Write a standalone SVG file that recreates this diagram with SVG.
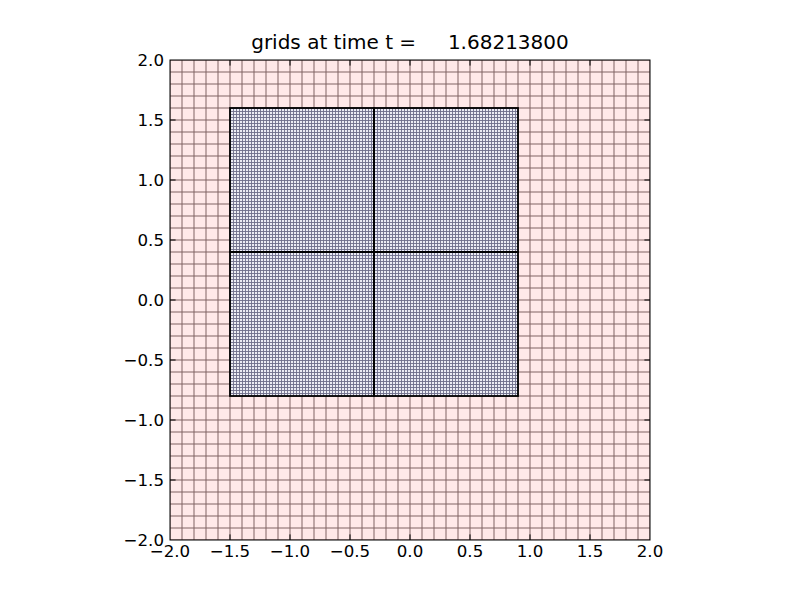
<svg xmlns="http://www.w3.org/2000/svg" width="800" height="600" viewBox="0 0 800 600">
<style>
text{font-family:"DejaVu Sans",sans-serif;fill:#000}
.tl{font-size:16.67px}
.tx{text-anchor:middle}
.ty{text-anchor:end;dominant-baseline:central}
.tk{stroke:#000;stroke-width:1;fill:none}
.frame{stroke:#000;stroke-width:1;fill:none}
.pb{stroke:#000;stroke-width:1.8;fill:none}
</style>
<defs>
<pattern id="coarse" patternUnits="userSpaceOnUse" x="170" y="60" width="12" height="12">
<rect width="12" height="12" fill="#ffe9e9"/>
<rect x="-0.5" y="0" width="1" height="12" fill="#806262"/>
<rect x="11.5" y="0" width="1" height="12" fill="#806262"/>
<rect x="0" y="-0.5" width="12" height="1" fill="#806262"/>
<rect x="0" y="11.5" width="12" height="1" fill="#806262"/>
</pattern>
<pattern id="fine" patternUnits="userSpaceOnUse" x="230" y="108" width="3" height="3">
<rect width="3" height="3" fill="#ececf4"/>
<rect x="0" y="0" width="0.9" height="3" fill="#6e6e8a"/>
<rect x="0" y="0" width="3" height="0.9" fill="#6e6e8a"/>
</pattern>
</defs>
<rect width="800" height="600" fill="#fff"/>
<g id="coarse-grid">
<rect x="170" y="60" width="480" height="480" fill="url(#coarse)"/>
</g>
<g id="fine-grids">
<rect id="patch-tl" x="230" y="108" width="144" height="144" fill="url(#fine)"/>
<rect id="patch-tr" x="374" y="108" width="144" height="144" fill="url(#fine)"/>
<rect id="patch-bl" x="230" y="252" width="144" height="144" fill="url(#fine)"/>
<rect id="patch-br" x="374" y="252" width="144" height="144" fill="url(#fine)"/>
<rect class="pb" x="230" y="108" width="144" height="144"/>
<rect class="pb" x="374" y="108" width="144" height="144"/>
<rect class="pb" x="230" y="252" width="144" height="144"/>
<rect class="pb" x="374" y="252" width="144" height="144"/>
</g>
<g id="axes">
<rect class="frame" x="170" y="60" width="480" height="480"/>
<path class="tk" d="M230,540v-5.6M290,540v-5.6M350,540v-5.6M410,540v-5.6M470,540v-5.6M530,540v-5.6M590,540v-5.6
M230,60v5.6M290,60v5.6M350,60v5.6M410,60v5.6M470,60v5.6M530,60v5.6M590,60v5.6
M170,480h5.6M170,420h5.6M170,360h5.6M170,300h5.6M170,240h5.6M170,180h5.6M170,120h5.6
M650,480h-5.6M650,420h-5.6M650,360h-5.6M650,300h-5.6M650,240h-5.6M650,180h-5.6M650,120h-5.6"/>
<g class="tl tx">
<text x="170" y="557">−2.0</text>
<text x="230" y="557">−1.5</text>
<text x="290" y="557">−1.0</text>
<text x="350" y="557">−0.5</text>
<text x="410" y="557">0.0</text>
<text x="470" y="557">0.5</text>
<text x="530" y="557">1.0</text>
<text x="590" y="557">1.5</text>
<text x="650" y="557">2.0</text>
</g>
<g class="tl ty">
<text x="164" y="540">−2.0</text>
<text x="164" y="480">−1.5</text>
<text x="164" y="420">−1.0</text>
<text x="164" y="360">−0.5</text>
<text x="164" y="300">0.0</text>
<text x="164" y="240">0.5</text>
<text x="164" y="180">1.0</text>
<text x="164" y="120">1.5</text>
<text x="164" y="60">2.0</text>
</g>
<text x="410" y="49" style="font-size:20px;text-anchor:middle;white-space:pre">grids at time t =     1.68213800</text>
</g>
</svg>
